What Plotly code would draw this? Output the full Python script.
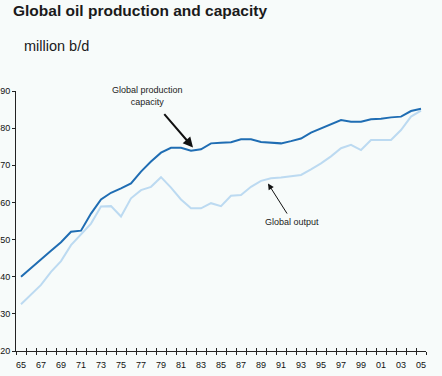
import plotly.graph_objects as go

years = list(range(1965, 2006))
capacity = [40.0, 42.4, 44.6, 47.0, 49.3, 52.1, 52.4, 57.0, 60.8, 62.6,
            63.8, 65.1, 68.3, 71.0, 73.4, 74.7, 74.7, 73.9, 74.3, 75.9,
            76.1, 76.2, 77.0, 77.0, 76.3, 76.1, 75.9, 76.5, 77.2, 78.8,
            79.9, 81.1, 82.2, 81.7, 81.7, 82.4, 82.5, 82.9, 83.1, 84.6, 85.2]
output = [32.6, 35.3, 37.8, 41.3, 44.2, 48.5, 51.5, 54.3, 58.9, 59.0,
          56.2, 61.1, 63.3, 64.2, 66.8, 64.0, 60.8, 58.4, 58.4, 59.8,
          59.0, 61.8, 62.0, 64.2, 65.8, 66.5, 66.7, 67.1, 67.4, 68.9,
          70.5, 72.4, 74.6, 75.5, 74.1, 76.8, 76.8, 76.8, 79.5, 83.1, 84.7]
label_years = list(range(1965, 2006, 2))
tick_labels = [str(y)[2:] for y in label_years]
bounds = [y - 0.5 for y in range(1965, 2007)]

FONT = "Liberation Sans, Arial, sans-serif"
BG = "#f7fbfa"

fig = go.Figure()
fig.add_trace(go.Scatter(x=years, y=output, mode="lines",
                         line=dict(color="#bcdaf1", width=2), hoverinfo="skip"))
fig.add_trace(go.Scatter(x=years, y=capacity, mode="lines",
                         line=dict(color="#1f6db3", width=2), hoverinfo="skip"))
fig.add_trace(go.Scatter(x=[years[0]], y=[capacity[0]], xaxis="x2", mode="lines",
                         showlegend=False, hoverinfo="skip", line=dict(width=0)))

fig.update_layout(
    width=442, height=376,
    margin=dict(l=16, r=16, t=91, b=25),
    paper_bgcolor=BG, plot_bgcolor=BG,
    showlegend=False,
    font=dict(family=FONT, color="#222"),
    title=dict(text="<b>Global oil production and capacity</b>",
               xref="container", yref="container", x=13/442, y=1-11/376,
               xanchor="left", yanchor="middle",
               font=dict(size=15.5, color="#1a1a1a", family=FONT)),
    xaxis=dict(range=[1964.5, 2005.5], tickmode="array", tickvals=label_years,
               ticktext=tick_labels, ticks="", showgrid=False, zeroline=False,
               showline=True, linecolor="#222", linewidth=1, automargin=False,
               tickfont=dict(size=9, color="#111"), ticklabelstandoff=5,
               minor=dict(tickmode="array", tickvals=bounds, ticks="outside",
                          ticklen=3, tickcolor="#222", showgrid=False)),
    xaxis2=dict(range=[1964.5, 2005.5], overlaying="x", anchor="y",
                tickmode="array", tickvals=bounds, ticks="inside", ticklen=3,
                tickcolor="#222", showticklabels=False, showgrid=False,
                zeroline=False, showline=False, automargin=False),
    yaxis=dict(range=[20, 90], tickmode="array", tickvals=list(range(20, 91, 10)),
               ticks="outside", ticklen=3, tickcolor="#222", showgrid=False,
               zeroline=False, showline=True, linecolor="#222", linewidth=1,
               automargin=False, tickfont=dict(size=9, color="#111")),
    annotations=[
        dict(text="million b/d", xref="paper", yref="paper",
             x=(21.7-16)/410, y=(351-46.5)/260, xanchor="left", yanchor="middle",
             showarrow=False, font=dict(size=14.5, color="#1a1a1a")),
        dict(text="Global production<br>capacity", xref="x", yref="y",
             x=1977.6, y=88.7, showarrow=False, xanchor="center", yanchor="middle",
             font=dict(size=9, color="#222")),
        dict(text="", xref="x", yref="y", x=1982.2, y=74.8,
             axref="x", ayref="y", ax=1979.2, ay=84.2, showarrow=True,
             arrowhead=2, arrowsize=1, arrowwidth=2, arrowcolor="#111"),
        dict(text="Global output", xref="x", yref="y",
             x=1992.1, y=54.8, showarrow=False, xanchor="center", yanchor="middle",
             font=dict(size=9, color="#222")),
        dict(text="", xref="x", yref="y", x=1989.7, y=65.1,
             axref="x", ayref="y", ax=1991.7, ay=56.6, showarrow=True,
             arrowhead=2, arrowsize=1.2, arrowwidth=1, arrowcolor="#111"),
    ],
)

fig.write_html("out.html", config={"displayModeBar": False},
               post_script="document.body.style.margin='0';document.body.style.background='%s';" % BG)
